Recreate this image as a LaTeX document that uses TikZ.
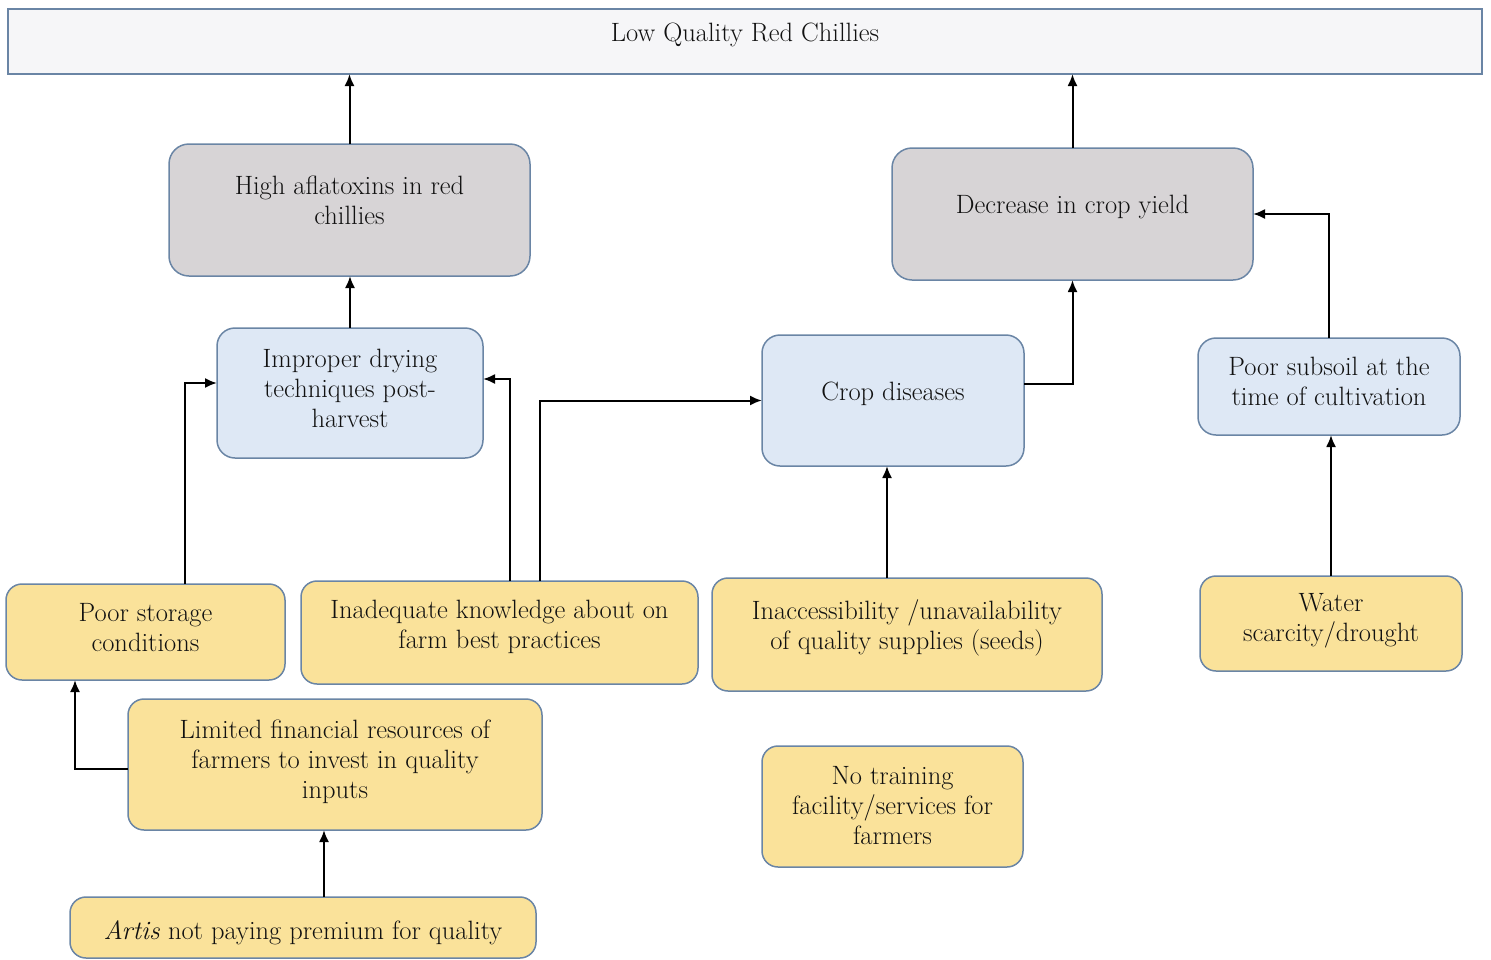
\documentclass[tikz,border=0pt]{standalone}
\usetikzlibrary{arrows.meta,calc}
\definecolor{edge}{HTML}{6A85A5}
\definecolor{topfill}{HTML}{F6F6F8}
\definecolor{grayfill}{HTML}{D7D4D6}
\definecolor{bluefill}{HTML}{DEE8F5}
\definecolor{yellowfill}{HTML}{FAE29A}
\definecolor{ink}{HTML}{111111}
\newcommand\bxt[4]{\parbox[c][#2pt][t]{#1pt}{\centering\vspace*{\dimexpr #3pt-21pt\relax}\strut #4}}
\tikzset{
  base/.style={draw=edge, line width=1.5pt, inner sep=0pt, outer sep=0pt, text=ink, font=\fontsize{26.5}{30}\selectfont},
  topbox/.style={base, fill=topfill},
  graybox/.style={base, fill=grayfill, rounded corners=20pt},
  bluebox/.style={base, fill=bluefill, rounded corners=18pt},
  yelbox/.style={base, fill=yellowfill, rounded corners=16pt},
  arr/.style={line width=2pt, -{Latex[length=12pt,width=10pt]}}
}
\begin{document}
\begin{tikzpicture}[x=1pt,y=-1pt]
\useasboundingbox (0,0) rectangle (1491,959);
% top
\node[topbox] (top) at (745,41.5) {\bxt{1474}{65}{32}{Low Quality Red Chillies}};
% grey
\node[graybox] (ha) at (349.5,210) {\bxt{361}{132}{50}{High aflatoxins in red\\chillies}};
\node[graybox] (dc) at (1072.5,214) {\bxt{361}{132}{65}{Decrease in crop yield}};
% blue
\node[bluebox] (id) at (350,393) {\bxt{266}{130}{39}{Improper drying\\techniques post-\\harvest}};
\node[bluebox] (cd) at (893,400.5) {\bxt{262}{131}{65}{Crop diseases}};
\node[bluebox] (ps) at (1329,386.5) {\bxt{262}{97}{37}{Poor subsoil at the\\time of cultivation}};
% yellow
\node[yelbox] (st) at (145.5,632) {\bxt{279}{96}{37}{Poor storage\\conditions}};
\node[yelbox] (ik) at (499.5,632.5) {\bxt{397}{103}{37}{Inadequate knowledge about on\\farm best practices}};
\node[yelbox] (ia) at (907,634.5) {\bxt{390}{113}{41}{Inaccessibility /unavailability\\of quality supplies (seeds)}};
\node[yelbox] (ws) at (1331,623.5) {\bxt{262}{95}{35}{Water\\scarcity/drought}};
\node[yelbox] (lf) at (335,764.5) {\bxt{414}{131}{39}{Limited financial resources of\\farmers to invest in quality\\inputs}};
\node[yelbox] (nt) at (892.5,806.5) {\bxt{261}{121}{38}{No training\\facility/services for\\farmers}};
\node[yelbox] (ar) at (303,927.5) {\bxt{466}{61}{42}{\textit{Artis} not paying premium for quality}};
% connectors
\draw[arr] (ha.north) -- (ha.north |- top.south);
\draw[arr] (dc.north) -- (dc.north |- top.south);
\draw[arr] (id.north) -- (id.north |- ha.south);
\draw[arr] ([yshift=17pt]cd.east) -| (dc.south);
\draw[arr] (ps.north) |- (dc.east);
\draw[arr] (ws.north) -- (ws.north |- ps.south);
\draw[arr] ([xshift=-20pt]ia.north) -- ([xshift=-20pt]ia.north |- cd.south);
\draw[arr] ([xshift=39.5pt]st.north) |- ([yshift=10pt]id.west);
\draw[arr] ([xshift=10.5pt]ik.north) |- ([yshift=14pt]id.east);
\draw[arr] ([xshift=40.5pt]ik.north) |- (cd.west);
\draw[arr] ([yshift=-4.5pt]lf.west) -| ([xshift=-70.5pt]st.south);
\draw[arr] ([xshift=21pt]ar.north) -- ([xshift=21pt]ar.north |- lf.south);
\end{tikzpicture}
\end{document}
